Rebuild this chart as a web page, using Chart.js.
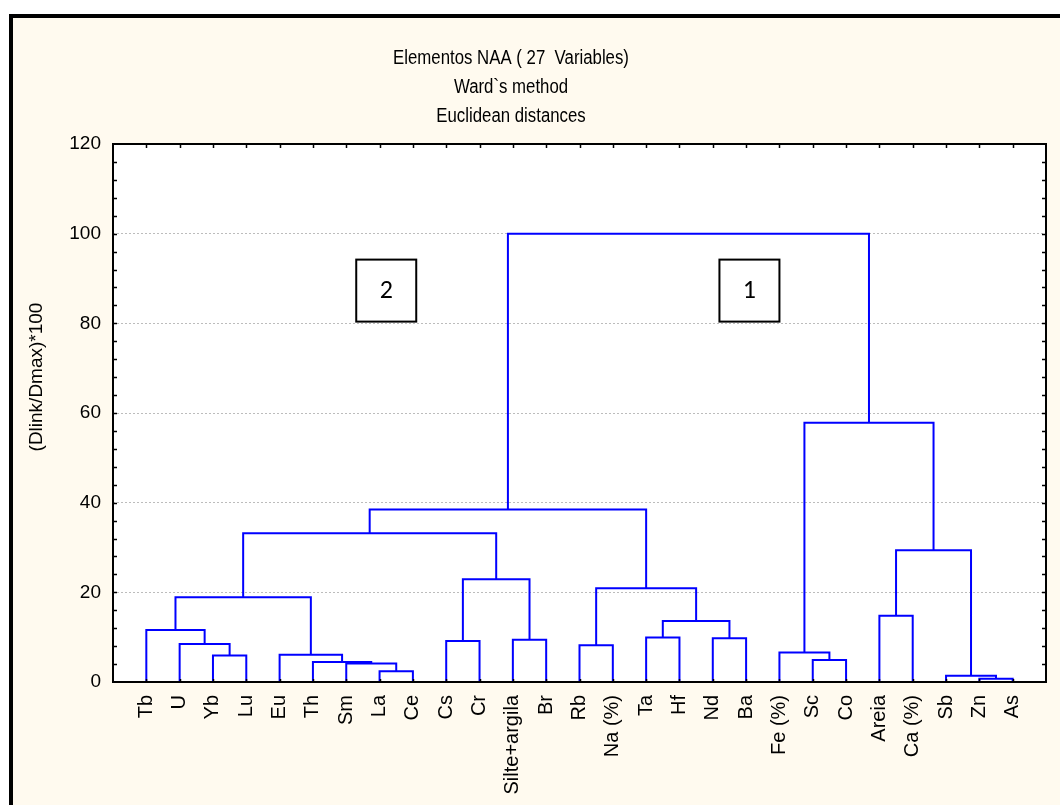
<!DOCTYPE html>
<html>
<head>
<meta charset="utf-8">
<script src="https://cdn.jsdelivr.net/npm/chart.js@4.4.1/dist/chart.umd.min.js"></script>
<style>
  html, body { margin: 0; padding: 0; background: #fff; }
  #tree { display: block; }
</style>
</head>
<body>
<canvas id="tree" width="1060" height="805"></canvas>
<script>
// ========================
//    dendrogram data
// ========================

const leafLabels = ["Tb", "U", "Yb", "Lu", "Eu", "Th", "Sm", "La", "Ce", "Cs", "Cr",
  "Silte+argila", "Br", "Rb", "Na (%)", "Ta", "Hf", "Nd", "Ba", "Fe (%)", "Sc", "Co",
  "Areia", "Ca (%)", "Sb", "Zn", "As"];

// [left, right, height] - ids >= 27 point to earlier merges (27 = first row)
const merges = [
  [25, 26, 0.75],   // 27 Zn-As
  [24, 27, 1.4],    // 28
  [7, 8, 2.4],      // 29 La-Ce
  [6, 29, 4.1],     // 30
  [5, 30, 4.45],    // 31
  [20, 21, 4.9],    // 32 Sc-Co
  [2, 3, 5.9],      // 33 Yb-Lu
  [4, 31, 6.1],     // 34
  [19, 32, 6.6],    // 35
  [13, 14, 8.2],    // 36 Rb-Na
  [1, 33, 8.5],     // 37
  [9, 10, 9.15],    // 38 Cs-Cr
  [11, 12, 9.45],   // 39 Silte-Br
  [17, 18, 9.75],   // 40 Nd-Ba
  [15, 16, 9.95],   // 41 Ta-Hf
  [0, 37, 11.6],    // 42
  [41, 40, 13.6],   // 43
  [22, 23, 14.8],   // 44 Areia-Ca
  [42, 34, 18.9],   // 45
  [36, 43, 20.9],   // 46
  [38, 39, 22.9],   // 47
  [44, 28, 29.4],   // 48
  [45, 47, 33.2],   // 49
  [49, 46, 38.45],  // 50
  [35, 48, 57.8],   // 51
  [50, 51, 100]     // 52
];

const yTicks = [0, 20, 40, 60, 80, 100, 120];
const titleLines = ["Elementos NAA ( 27  Variables)", "Ward`s method", "Euclidean distances"];
const yTitle = "(Dlink/Dmax)*100";
const groupTags = ["2", "1"];

// node positions: leaves sit on 1..27, each merge in the middle of its children
const nodeX = leafLabels.map((_, i) => i + 1);
const nodeY = leafLabels.map(() => 0);
const links = merges.map(([a, b, h]) => {
  const pts = [
    { x: nodeX[a], y: nodeY[a] },
    { x: nodeX[a], y: h },
    { x: nodeX[b], y: h },
    { x: nodeX[b], y: nodeY[b] }
  ];
  nodeX.push((nodeX[a] + nodeX[b]) / 2);
  nodeY.push(h);
  return pts;
});

const FONT = "'Liberation Sans', Arial, sans-serif";

// page background, outer frame and white plot area
const backdrop = {
  id: 'backdrop',
  beforeDraw(chart) {
    const { ctx, width, height, chartArea: a } = chart;
    ctx.save();
    ctx.fillStyle = '#fff';
    ctx.fillRect(0, 0, width, height);
    ctx.fillStyle = '#fffaef';
    ctx.fillRect(9, 14, width - 9, height - 14);
    ctx.fillStyle = '#000';
    ctx.fillRect(9, 14, width - 9, 4);
    ctx.fillRect(9, 14, 4, height - 14);
    ctx.fillStyle = '#fff';
    ctx.fillRect(a.left, a.top, a.right - a.left, a.bottom - a.top);
    ctx.restore();
  }
};

// plot border with inward tick marks
const frame = {
  id: 'frame',
  afterDatasetsDraw(chart) {
    const { ctx, chartArea: a, scales: { x, y } } = chart;
    ctx.save();
    ctx.strokeStyle = '#000';
    ctx.lineWidth = 2;
    ctx.strokeRect(a.left, a.top, a.right - a.left, a.bottom - a.top);
    ctx.lineWidth = 1.5;
    ctx.beginPath();
    for (let v = 4; v < 120; v += 4) {
      const py = Math.round(y.getPixelForValue(v)) + 0.5;
      ctx.moveTo(a.left, py); ctx.lineTo(a.left + 4, py);
      ctx.moveTo(a.right, py); ctx.lineTo(a.right - 4, py);
    }
    leafLabels.forEach((_, i) => {
      const px = Math.round(x.getPixelForValue(i + 1)) + 0.5;
      ctx.moveTo(px, a.top); ctx.lineTo(px, a.top + 4);
      ctx.moveTo(px, a.bottom); ctx.lineTo(px, a.bottom - 3);
    });
    ctx.stroke();
    ctx.restore();
  }
};

// titles, axis title and the group boxes
const texts = {
  id: 'texts',
  afterDraw(chart) {
    const { ctx, scales: { x, y } } = chart;
    ctx.save();
    ctx.fillStyle = '#000';
    ctx.textAlign = 'center';
    ctx.textBaseline = 'middle';

    // condensed title lines
    ctx.font = '20px ' + FONT;
    titleLines.forEach((t, i) => {
      ctx.setTransform(0.84, 0, 0, 1, 511, 58 + i * 29);
      ctx.fillText(t, 0, 0);
    });

    ctx.font = '19px ' + FONT;
    ctx.setTransform(1, 0, 0, 1, 37, 377);
    ctx.rotate(-Math.PI / 2);
    ctx.fillText(yTitle, 0, 0);
    ctx.setTransform(1, 0, 0, 1, 0, 0);

    const boxX = [8.2, 19.1];
    ctx.font = "26px Carlito, Lato, " + FONT;
    groupTags.forEach((tag, i) => {
      const cx = x.getPixelForValue(boxX[i]);
      const cy = y.getPixelForValue(87.3);
      ctx.fillStyle = '#fff';
      ctx.fillRect(cx - 30, cy - 31, 60, 62);
      ctx.strokeStyle = '#000';
      ctx.lineWidth = 2;
      ctx.strokeRect(cx - 30, cy - 31, 60, 62);
      ctx.fillStyle = '#000';
      ctx.fillText(tag, cx, cy + 1);
    });
    ctx.restore();
  }
};

new Chart(document.getElementById('tree'), {
  type: 'scatter',
  data: {
    datasets: links.map(pts => ({
      data: pts,
      showLine: true,
      borderColor: '#0000ff',
      borderWidth: 2,
      pointRadius: 0,
      pointHoverRadius: 0,
      fill: false
    }))
  },
  options: {
    responsive: false,
    animation: false,
    events: [],
    layout: { padding: { left: 0, top: 144, right: 14, bottom: 0 } },
    plugins: {
      legend: { display: false },
      tooltip: { enabled: false }
    },
    scales: {
      x: {
        type: 'linear',
        min: 0,
        max: leafLabels.length + 1,
        afterBuildTicks: s => { s.ticks = leafLabels.map((_, i) => ({ value: i + 1 })); },
        afterFit: s => { s.height = 123; s.paddingLeft = 0; s.paddingRight = 0; },
        grid: { display: false, drawTicks: false },
        border: { display: false },
        ticks: {
          autoSkip: false,
          minRotation: 90,
          maxRotation: 90,
          padding: 13,
          color: '#000',
          font: { family: FONT, size: 20 },
          callback: v => leafLabels[v - 1] ?? ''
        }
      },
      y: {
        min: 0,
        max: 120,
        afterBuildTicks: s => { s.ticks = yTicks.map(v => ({ value: v })); },
        afterFit: s => { s.width = 113; s.paddingTop = 0; s.paddingBottom = 0; },
        grid: {
          drawTicks: false,
          lineWidth: 1,
          color: c => (c.tick.value === 0 || c.tick.value === 120) ? 'rgba(0,0,0,0)' : '#bcbcbc'
        },
        border: { display: false, dash: [2, 2] },
        ticks: {
          padding: 12,
          color: '#000',
          font: { family: FONT, size: 19 }
        }
      }
    }
  },
  plugins: [backdrop, frame, texts]
});
</script>
</body>
</html>
